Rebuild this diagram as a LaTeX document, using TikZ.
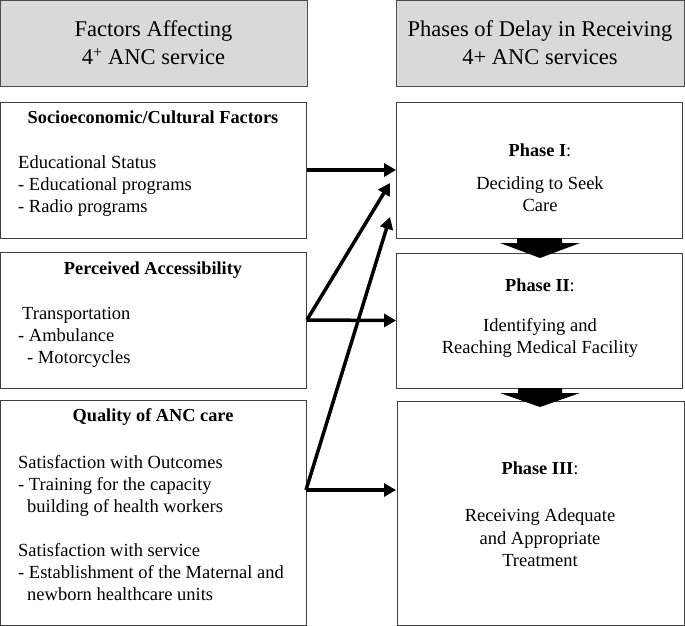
\documentclass[tikz,border=0pt]{standalone}
\usepackage{fontspec}
\setmainfont{Liberation Serif}
\usetikzlibrary{arrows.meta}
\begin{document}
\begin{tikzpicture}[x=1pt,y=-1pt,
  hdr/.style={draw=black!70,line width=0.9pt,fill=black!15,inner sep=0pt,minimum width=#1,minimum height=86pt},
  htxt/.style={inner sep=0pt,anchor=base,font=\fontsize{22.5}{28}\selectfont},
  box/.style={draw=black!75,line width=0.8pt,inner sep=0pt},
  body/.style={inner sep=0pt,anchor=base west,font=\fontsize{18.5}{22}\selectfont},
  ttl/.style={inner sep=0pt,anchor=base,font=\fontsize{18.3}{22}\selectfont\bfseries},
  ctr/.style={inner sep=0pt,anchor=base,font=\fontsize{18.5}{22}\selectfont},
  arr/.style={line width=3.5pt,-{Triangle[length=12pt,width=13pt]}},
  blockarrow/.style={fill=black,draw=none}]
\useasboundingbox (0,0) rectangle (685,626);
% headers
\node[hdr=307pt] (h1) at (153.5,43) {};
\node[hdr=288pt] (h2) at (540,43) {};
\node[htxt] (h1a) at (153.5,37) {Factors Affecting};
\node[htxt] (h1b) at (153.5,65) {4\textsuperscript{+} ANC service};
\node[htxt] (h2a) at (540,37) {Phases of Delay in Receiving};
\node[htxt] (h2b) at (540,65) {4+ ANC services};
% left boxes
\node[box,minimum width=306pt,minimum height=136pt] (b1) at (153.5,170) {};
\node[box,minimum width=306pt,minimum height=136pt] (b2) at (153.5,320) {};
\node[box,minimum width=306pt,minimum height=225pt] (b3) at (153.5,512.5) {};
% right boxes
\node[box,minimum width=286pt,minimum height=136pt] (p1) at (539.5,170) {};
\node[box,minimum width=286pt,minimum height=135pt] (p2) at (539.5,320.5) {};
\node[box,minimum width=287pt,minimum height=224pt] (p3) at (540.5,513.5) {};
% left texts
\node[ttl] (t1) at (153,123) {Socioeconomic/Cultural Factors};
\node[body] (t1a) at (18,168) {Educational Status};
\node[body] (t1b) at (18,190) {- Educational programs};
\node[body] (t1c) at (18,212) {- Radio programs};
\node[ttl] (t2) at (153,274) {Perceived Accessibility};
\node[body] (t2a) at (22,319) {Transportation};
\node[body] (t2b) at (18,341) {- Ambulance};
\node[body] (t2c) at (27,363) {- Motorcycles};
\node[ttl] (t3) at (153,421) {Quality of ANC care};
\node[body] (t3a) at (18,468) {Satisfaction with Outcomes};
\node[body] (t3b) at (18,490) {- Training for the capacity};
\node[body] (t3c) at (27,512) {building of health workers};
\node[body] (t3d) at (18,556) {Satisfaction with service};
\node[body] (t3e) at (18,578) {- Establishment of the Maternal and};
\node[body] (t3f) at (27,600) {newborn healthcare units};
% right texts
\node[ttl] (q1) at (540,156) {Phase I\textmd{:}};
\node[ctr] (q1a) at (540,189) {Deciding to Seek};
\node[ctr] (q1b) at (540,211) {Care};
\node[ttl] (q2) at (540,291) {Phase II\textmd{:}};
\node[ctr] (q2a) at (540,331) {Identifying and};
\node[ctr] (q2b) at (540,353) {Reaching Medical Facility};
\node[ttl] (q3) at (540,474) {Phase III\textmd{:}};
\node[ctr] (q3a) at (540,521) {Receiving Adequate};
\node[ctr] (q3b) at (540,544) {and Appropriate};
\node[ctr] (q3c) at (540,566) {Treatment};
% connectors
\coordinate (s3) at (306,490);
\coordinate (e3) at (396,490);
\coordinate (d1) at (390,183);
\coordinate (d2) at (390,217);
\draw[arr] (b1.east) -- (p1.west);
\draw[arr] (b2.east) -- (p2.west);
\draw[arr] (s3) -- (e3);
\draw[arr] (b2.east) -- (d1);
\draw[arr] (s3) -- (d2);
% block arrows
\fill[blockarrow] (517,238) -- (562,238) -- (562,243) -- (580,243) -- (540,258) -- (500,243) -- (517,243) -- cycle;
\fill[blockarrow] (518,388) -- (562,388) -- (562,393) -- (580,393) -- (540,407) -- (500,393) -- (518,393) -- cycle;
\end{tikzpicture}
\end{document}
